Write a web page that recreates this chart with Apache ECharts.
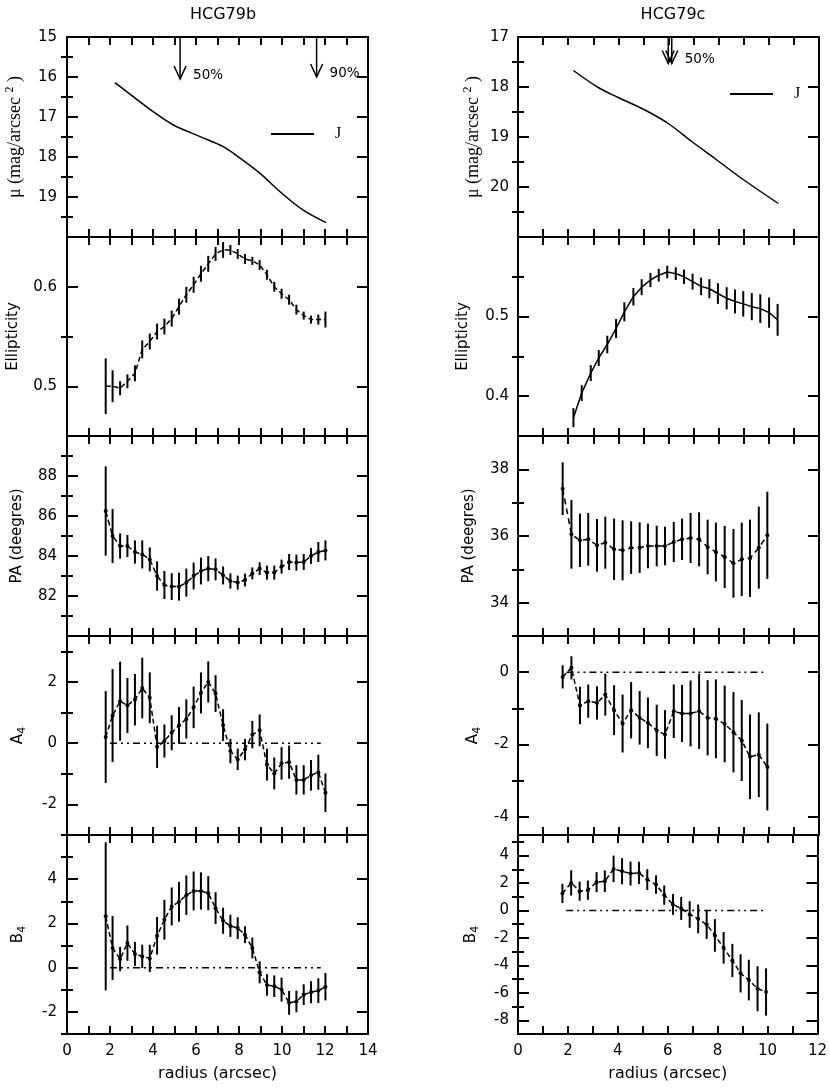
<!DOCTYPE html>
<html><head><meta charset="utf-8">
<script src="https://cdn.jsdelivr.net/npm/echarts@6/dist/echarts.min.js"></script>
<style>html,body{margin:0;padding:0;background:#fff}#c{width:830px;height:1089px}</style>
</head><body><div id="c"></div>
<script>
// ---------------- DATA ----------------
// HCG79b radii (ellipticity, PA, A4, B4)
const rB = [1.80,2.12,2.47,2.81,3.16,3.50,3.85,4.19,4.53,4.87,5.21,5.55,5.89,6.23,6.57,6.91,7.26,7.60,7.94,8.28,8.62,8.96,9.30,9.64,9.98,10.33,10.67,11.01,11.35,11.69,12.02];
const ellB = [0.500,0.500,0.498,0.505,0.513,0.537,0.545,0.555,0.560,0.568,0.580,0.592,0.602,0.613,0.623,0.633,0.637,0.637,0.633,0.628,0.626,0.622,0.612,0.600,0.593,0.587,0.577,0.571,0.567,0.567,0.567];
const ellBErr = [0.028,0.016,0.007,0.007,0.008,0.009,0.008,0.008,0.008,0.008,0.008,0.008,0.008,0.008,0.008,0.007,0.008,0.005,0.005,0.005,0.004,0.005,0.005,0.005,0.005,0.005,0.005,0.004,0.004,0.005,0.008];
const paB = [86.25,85.0,84.5,84.5,84.2,84.08,83.83,83.0,82.55,82.47,82.47,82.67,83.0,83.25,83.37,83.33,83.03,82.75,82.67,82.8,83.13,83.37,83.17,83.17,83.47,83.7,83.67,83.7,84.0,84.2,84.28];
const paBErr = [2.23,1.35,0.63,0.55,0.58,0.7,0.6,0.73,0.7,0.67,0.7,0.7,0.67,0.67,0.63,0.55,0.45,0.38,0.35,0.32,0.3,0.32,0.35,0.35,0.35,0.4,0.4,0.4,0.4,0.5,0.5];
const a4B = [0.2,0.9,1.37,1.23,1.42,1.8,1.48,-0.12,0.07,0.34,0.58,0.79,1.17,1.64,2.0,1.62,0.59,-0.26,-0.53,-0.21,0.28,0.42,-0.7,-0.99,-0.66,-0.62,-1.2,-1.2,-1.05,-0.95,-1.62];
const a4BErr = [1.5,1.52,1.29,0.9,0.84,0.99,0.83,0.69,0.54,0.57,0.6,0.64,0.68,0.67,0.67,0.6,0.52,0.4,0.35,0.35,0.45,0.52,0.52,0.52,0.53,0.54,0.48,0.48,0.5,0.57,0.63];
const b4B = [2.32,0.89,0.39,1.11,0.62,0.51,0.42,1.44,2.17,2.77,2.98,3.28,3.47,3.47,3.37,2.69,2.12,1.89,1.79,1.49,0.89,-0.21,-0.78,-0.84,-0.99,-1.59,-1.53,-1.22,-1.11,-1.04,-0.86];
const b4BErr = [3.35,1.45,0.55,0.8,0.54,0.53,0.62,0.85,0.9,0.86,0.9,0.89,0.88,0.84,0.77,0.72,0.59,0.5,0.49,0.38,0.47,0.5,0.49,0.49,0.54,0.54,0.49,0.47,0.5,0.56,0.62];
const muBx = [2.23,3.08,4.02,4.95,6.19,7.27,8.05,8.98,9.91,10.99,12.05];
const muBy = [16.14,16.49,16.87,17.2,17.49,17.74,18.03,18.41,18.87,19.33,19.64];
const arrowsB = [[5.26,15,16.05],[11.61,15,16.0]];
const arrowLabelsB = ['50%','90%'];
const zeroB = [2.0,11.8];

// HCG79c
const rC = [1.78,2.13,2.47,2.80,3.15,3.48,3.83,4.17,4.51,4.85,5.18,5.53,5.86,6.21,6.54,6.88,7.22,7.56,7.89,8.24,8.59,8.92,9.25,9.60,9.94];
const rCe = [2.21,2.54,2.90,3.22,3.56,3.91,4.24,4.60,4.93,5.28,5.61,5.95,6.29,6.62,6.96,7.30,7.63,7.97,8.32,8.65,8.98,9.32,9.66,10.01,10.35];
const ellC = [0.373,0.404,0.429,0.448,0.465,0.485,0.506,0.525,0.537,0.546,0.552,0.556,0.554,0.550,0.544,0.538,0.535,0.529,0.523,0.519,0.516,0.5125,0.510,0.505,0.496];
const ellCErr = [0.012,0.01,0.01,0.01,0.011,0.012,0.012,0.011,0.01,0.009,0.008,0.008,0.008,0.009,0.01,0.011,0.012,0.013,0.014,0.015,0.016,0.017,0.018,0.019,0.02];
const paC = [37.42,36.05,35.87,35.9,35.72,35.8,35.6,35.57,35.65,35.65,35.7,35.7,35.7,35.82,35.9,35.94,35.9,35.67,35.52,35.37,35.18,35.3,35.33,35.65,36.02];
const paCErr = [0.79,1.03,0.8,0.79,0.79,0.78,0.92,0.9,0.79,0.76,0.67,0.61,0.58,0.6,0.62,0.75,0.81,0.82,0.88,0.93,1.03,1.1,1.16,1.23,1.31];
const a4C = [-0.13,0.12,-0.92,-0.8,-0.85,-0.62,-1.05,-1.42,-1.05,-1.26,-1.4,-1.61,-1.72,-1.08,-1.14,-1.14,-1.08,-1.26,-1.29,-1.43,-1.66,-1.89,-2.34,-2.28,-2.62];
const a4CErr = [0.32,0.32,0.52,0.46,0.46,0.58,0.69,0.8,0.78,0.74,0.7,0.71,0.67,0.74,0.79,0.91,1.04,1.04,1.09,1.06,1.11,1.12,1.17,1.17,1.2];
const b4C = [1.24,2.01,1.41,1.48,2.06,2.13,3.03,2.86,2.69,2.74,2.25,1.89,1.12,0.44,0.15,-0.29,-0.61,-1.02,-1.82,-2.72,-3.64,-4.58,-5.07,-5.7,-5.94];
const b4CErr = [0.7,0.92,0.7,0.7,0.73,0.79,0.97,0.95,0.87,0.81,0.76,0.67,0.7,0.76,0.84,0.97,1.05,1.05,1.19,1.15,1.21,1.39,1.48,1.64,1.72];
const muCx = [2.21,3.2,4.0,5.06,5.99,6.93,7.85,8.92,10.38];
const muCy = [17.67,18.01,18.21,18.46,18.73,19.09,19.43,19.83,20.33];
const arrowsC = [[5.99,17,17.53],[6.13,17,17.53]];
const arrowLabelsC = ['','50%'];
const zeroC = [1.93,9.85];

// tick values
const xTicksB = [0,1,2,3,4,5,6,7,8,9,10,11,12,13,14];
const xLabelsB = [0,2,4,6,8,10,12,14];
const xTicksC = [0,1,2,3,4,5,6,7,8,9,10,11,12];
const xLabelsC = [0,2,4,6,8,10,12];
const muBMajor = [15,16,17,18,19,20], muBLabels = [15,16,17,18,19], muBMinor = [15.5,16.5,17.5,18.5,19.5];
const muCMajor = [17,18,19,20,21], muCLabels = [17,18,19,20], muCMinor = [17.5,18.5,19.5,20.5];
const ellBMajor = [0.5,0.6], ellBLabels = [0.5,0.6], ellBMinor = [0.55];
const ellCMajor = [0.4,0.5,0.6], ellCLabels = [0.4,0.5], ellCMinor = [0.45,0.55];
const paBMajor = [80,82,84,86,88,90], paBLabels = [82,84,86,88], paBMinor = [81,83,85,87,89];
const paCMajor = [34,36,38], paCLabels = [34,36,38], paCMinor = [35,37];
const a4BMajor = [-2,0,2], a4BLabels = [-2,0,2], a4BMinor = [-3,-1,1,3];
const a4CMajor = [-4,-2,0], a4CLabels = [-4,-2,0], a4CMinor = [-3,-1,1];
const b4BMajor = [-2,0,2,4,6], b4BLabels = [-2,0,2,4], b4BMinor = [-3,-1,1,3,5];
const b4CMajor = [-8,-6,-4,-2,0,2,4], b4CLabels = [-8,-6,-4,-2,0,2,4], b4CMinor = [-7,-5,-3,-1,1,3,5];

// ---------------- LAYOUT / STYLE ----------------
const SANS = '"DejaVu Sans", Verdana, sans-serif';
const SERIF = '"Liberation Serif", "Times New Roman", serif';
const TOPS = [37,237,436,636,835], HS = [200,199,200,199,199];
const LEFTS = [67,518], W = 301;
const BLK = '#000';

const muName = 'μ (mag/arcsec {sup|2} )';
const muRich = {sup:{fontSize:12, fontFamily:SERIF, color:BLK, padding:[0,0,11,0]}};
const subRich = {sub:{fontSize:11, fontFamily:SANS, color:BLK, padding:[9,0,0,0]}};

const panels = [
  {col:0,row:0,min:15,max:20,inv:true,major:muBMajor,labels:muBLabels,minor:muBMinor,name:muName,serif:true,rich:muRich,gap:40,margin:10},
  {col:0,row:1,min:0.45,max:0.65,major:ellBMajor,labels:ellBLabels,minor:ellBMinor,name:'Ellipticity',gap:46,margin:10},
  {col:0,row:2,min:80,max:90,major:paBMajor,labels:paBLabels,minor:paBMinor,name:'PA (deegres)',gap:42,margin:10},
  {col:0,row:3,min:-3,max:3.5,major:a4BMajor,labels:a4BLabels,minor:a4BMinor,name:'A{sub|4}',rich:subRich,gap:39,margin:10},
  {col:0,row:4,min:-3,max:6,major:b4BMajor,labels:b4BLabels,minor:b4BMinor,name:'B{sub|4}',rich:subRich,gap:39,margin:10},
  {col:1,row:0,min:17,max:21,inv:true,major:muCMajor,labels:muCLabels,minor:muCMinor,name:muName,serif:true,rich:muRich,gap:33,margin:9},
  {col:1,row:1,min:0.35,max:0.6,major:ellCMajor,labels:ellCLabels,minor:ellCMinor,name:'Ellipticity',gap:47,margin:9},
  {col:1,row:2,min:33,max:39,major:paCMajor,labels:paCLabels,minor:paCMinor,name:'PA (deegres)',gap:41,margin:9},
  {col:1,row:3,min:-4.5,max:1,major:a4CMajor,labels:a4CLabels,minor:a4CMinor,name:'A{sub|4}',rich:subRich,gap:35,margin:9},
  {col:1,row:4,min:-9,max:5.5,major:b4CMajor,labels:b4CLabels,minor:b4CMinor,name:'B{sub|4}',rich:subRich,gap:37,margin:9}
];

const grids = [], xAxes = [], yAxes = [], series = [];
const axLine = {show:true, onZero:false, lineStyle:{color:BLK, width:2}};
panels.forEach((p,i)=>{
  grids.push({left:LEFTS[p.col], top:TOPS[p.row], width:W, height:HS[p.row]});
  const xmax = p.col===0 ? 14 : 12;
  const xt = p.col===0 ? xTicksB : xTicksC;
  const xl = p.col===0 ? xLabelsB : xLabelsC;
  const bottom = p.row===4;
  const xTick = {show:true, inside:true, length:8, customValues:xt, lineStyle:{color:BLK,width:2}};
  xAxes.push({gridIndex:i, type:'value', min:0, max:xmax, position:'bottom', axisLine:axLine, axisTick:xTick,
    axisLabel: bottom ? {customValues:xl, margin:10, color:BLK, fontSize:15, fontFamily:SANS} : {show:false},
    splitLine:{show:false},
    name: bottom ? 'radius (arcsec)' : '', nameLocation:'middle', nameGap:32,
    nameTextStyle:{color:BLK, fontSize:16, fontFamily:SANS}});
  xAxes.push({gridIndex:i, type:'value', min:0, max:xmax, position:'top', axisLine:axLine, axisTick:xTick,
    axisLabel:{show:false}, splitLine:{show:false}});
  const yb = {gridIndex:i, type:'value', min:p.min, max:p.max, inverse:!!p.inv, splitLine:{show:false}};
  const majT = {show:true, inside:true, length:11, customValues:p.major, lineStyle:{color:BLK,width:2}};
  const minT = p.minor ? {show:true, inside:true, length:6, customValues:p.minor, lineStyle:{color:BLK,width:2}} : {show:false};
  yAxes.push(Object.assign({}, yb, {position:'left', axisLine:axLine, axisTick:majT,
    axisLabel:{customValues:p.labels, margin:p.margin, color:BLK, fontSize:15, fontFamily:SANS},
    name:p.name, nameLocation:'middle', nameGap:p.gap, nameRotate:90,
    nameTextStyle:{color:BLK, fontSize:p.serif?18:15, fontFamily:p.serif?SERIF:SANS, rich:p.rich||{}}}));
  yAxes.push(Object.assign({}, yb, {position:'left', axisLine:{show:false}, axisTick:minT, axisLabel:{show:false}}));
  yAxes.push(Object.assign({}, yb, {position:'right', axisLine:axLine, axisTick:majT, axisLabel:{show:false}}));
  yAxes.push(Object.assign({}, yb, {position:'right', axisLine:{show:false}, axisTick:minT, axisLabel:{show:false}}));
});

function zip(xs, ys){ return xs.map((x,k)=>[x, ys[k]]); }
function lineSeries(i, xs, ys, opts){
  return Object.assign({type:'line', xAxisIndex:2*i, yAxisIndex:4*i, data:zip(xs,ys), silent:true,
    symbol:'circle', symbolSize:4, showSymbol:true, itemStyle:{color:BLK},
    lineStyle:{color:BLK, width:1.5}, z:4}, opts||{});
}
function errSeries(i, xs, ys, es){
  return {type:'custom', xAxisIndex:2*i, yAxisIndex:4*i, silent:true, z:3,
    data: xs.map((x,k)=>[x, ys[k], es[k]]), encode:{x:0, y:1},
    renderItem:(params, api)=>{
      const x = api.value(0), y = api.value(1), e = api.value(2);
      const a = api.coord([x, y-e]), b = api.coord([x, y+e]);
      return {type:'line', shape:{x1:a[0], y1:a[1], x2:b[0], y2:b[1]}, style:{stroke:BLK, lineWidth:2}};
    }};
}
function zeroSeries(i, span){
  return {type:'line', xAxisIndex:2*i, yAxisIndex:4*i, silent:true, symbol:'none', z:2,
    data:[[span[0],0],[span[1],0]], lineStyle:{color:BLK, width:1.5, type:[7,4,2,4,2,4]}};
}
function arrowSeries(i, arr, labels){
  return {type:'custom', xAxisIndex:2*i, yAxisIndex:4*i, silent:true, z:5, data:arr, encode:{x:0, y:[1,2]},
    renderItem:(params, api)=>{
      const x = api.value(0), y0 = api.value(1), y1 = api.value(2);
      const a = api.coord([x, y0]), b = api.coord([x, y1]);
      const lbl = labels[params.dataIndex];
      const ch = [
        {type:'line', shape:{x1:a[0], y1:a[1], x2:b[0], y2:b[1]}, style:{stroke:BLK, lineWidth:1.5}},
        {type:'polyline', shape:{points:[[b[0]-6, b[1]-13],[b[0], b[1]],[b[0]+6, b[1]-13]]}, style:{stroke:BLK, lineWidth:1.5, fill:null}}
      ];
      if (lbl) ch.push({type:'text', x:b[0]+13, y:b[1]-4, style:{text:lbl, fill:BLK, font:'13.5px ' + SANS, verticalAlign:'middle', align:'left'}});
      return {type:'group', children:ch};
    }};
}

const DASH = [5,3];
// HCG79b
series.push(lineSeries(0, muBx, muBy, {name:'J', showSymbol:false, symbol:'none', smooth:0.35}));
series.push(arrowSeries(0, arrowsB, arrowLabelsB));
series.push(lineSeries(1, rB, ellB, {showSymbol:false, symbol:'none', lineStyle:{color:BLK,width:1.5,type:DASH}}));
series.push(errSeries(1, rB, ellB, ellBErr));
series.push(lineSeries(2, rB, paB, {lineStyle:{color:BLK,width:1.5,type:[6,3]}}));
series.push(errSeries(2, rB, paB, paBErr));
series.push(zeroSeries(3, zeroB));
series.push(lineSeries(3, rB, a4B, {lineStyle:{color:BLK,width:1.5,type:DASH}}));
series.push(errSeries(3, rB, a4B, a4BErr));
series.push(zeroSeries(4, zeroB));
series.push(lineSeries(4, rB, b4B, {lineStyle:{color:BLK,width:1.5,type:DASH}}));
series.push(errSeries(4, rB, b4B, b4BErr));
// HCG79c
series.push(lineSeries(5, muCx, muCy, {name:'J', showSymbol:false, symbol:'none', smooth:0.35}));
series.push(arrowSeries(5, arrowsC, arrowLabelsC));
series.push(lineSeries(6, rCe, ellC, {showSymbol:false, symbol:'none'}));
series.push(errSeries(6, rCe, ellC, ellCErr));
series.push(lineSeries(7, rC, paC, {lineStyle:{color:BLK,width:1.5,type:[6,4]}}));
series.push(errSeries(7, rC, paC, paCErr));
series.push(zeroSeries(8, zeroC));
series.push(lineSeries(8, rC, a4C, {lineStyle:{color:BLK,width:1.5,type:DASH}}));
series.push(errSeries(8, rC, a4C, a4CErr));
series.push(zeroSeries(9, zeroC));
series.push(lineSeries(9, rC, b4C, {lineStyle:{color:BLK,width:1.5,type:DASH}}));
series.push(errSeries(9, rC, b4C, b4CErr));

const legendBase = {data:['J'], orient:'horizontal', icon:'rect', itemWidth:43, itemHeight:2, selectedMode:false,
  textStyle:{color:BLK, fontSize:16, fontFamily:SERIF, padding:[0,0,0,16]}, padding:0};

const option = {
  animation:false,
  backgroundColor:'#fff',
  title:[
    {text:'HCG79b', left:218, top:2, textAlign:'center', textStyle:{color:BLK, fontSize:16, fontWeight:'normal', fontFamily:SANS}},
    {text:'HCG79c', left:668, top:2, textAlign:'center', textStyle:{color:BLK, fontSize:16, fontWeight:'normal', fontFamily:SANS}}
  ],
  legend:[
    Object.assign({}, legendBase, {left:271, top:126}),
    Object.assign({}, legendBase, {left:730, top:86})
  ],
  grid:grids, xAxis:xAxes, yAxis:yAxes, series:series
};
const chart = echarts.init(document.getElementById('c'));
chart.setOption(option);
</script>
</body></html>
